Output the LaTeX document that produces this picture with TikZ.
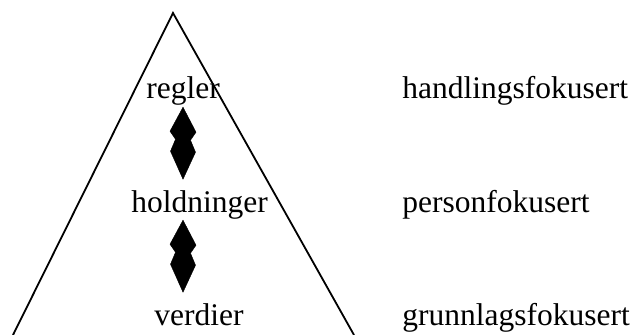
\documentclass[tikz,border=0pt]{standalone}
\usepackage{fontspec}
\setmainfont{Liberation Serif}
\usepackage{tikz}

\tikzset{
  txt/.style={anchor=base,inner sep=0pt,font=\fontsize{15.75}{19}\selectfont},
  arr/.style={fill=black,draw=black,line width=0.2pt,line join=miter}
}

\begin{document}
\begin{tikzpicture}[x=0.5pt,y=-0.5pt]
\useasboundingbox (0,0) rectangle (635,335);
\node (1) at (183,99) [txt] {regler};
\node (2) at (199.5,213) [txt] {holdninger};
\node (3) at (199,326) [txt] {verdier};
\node (4) at (402,99) [txt,anchor=base west] {handlingsfokusert};
\node (5) at (402,213) [txt,anchor=base west] {personfokusert};
\node (6) at (402,326) [txt,anchor=base west] {grunnlagsfokusert};
\coordinate (7) at (173,13);
\coordinate (8) at (13,335);
\coordinate (9) at (354,335);
\draw [line width=0.9pt] (8) -- (7) -- (9);
\path [arr] ([yshift=-0.5pt]1.south) -- ++(13,25) -- ++(-5.5,8) -- ++(5,12)
  -- ([yshift=5.75pt]1 |- 2.north) -- ++(-12.5,-28) -- ++(5,-12) -- ++(-5.5,-8) -- cycle;
\path [arr] (1 |- 2.south) -- ++(13,25) -- ++(-5.5,8) -- ++(5,12)
  -- ([yshift=5.75pt]1 |- 3.north) -- ++(-12.5,-28) -- ++(5,-12) -- ++(-5.5,-8) -- cycle;
\end{tikzpicture}
\end{document}
